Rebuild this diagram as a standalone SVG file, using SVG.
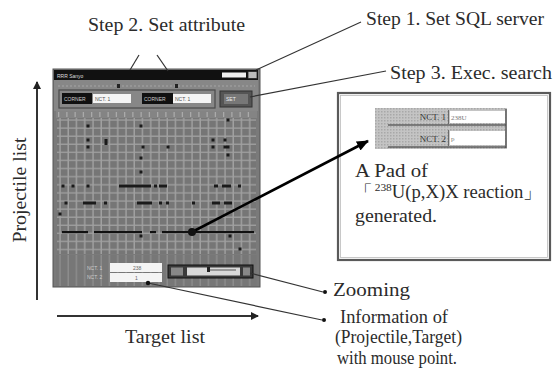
<svg xmlns="http://www.w3.org/2000/svg" width="553" height="381" viewBox="0 0 553 381">
<style>
.t{font-family:"Liberation Serif","Times New Roman",serif;font-size:18px;fill:#2b2b2b}
.s{font-family:"Liberation Sans",Arial,sans-serif;font-size:5px}
.ln{stroke:#333;stroke-width:1.2;fill:none}
.dot{fill:#111}
.pt{fill:#1a1a1a}
</style>
<defs>
<marker id="ah" markerWidth="8" markerHeight="8" refX="7" refY="4" orient="auto" markerUnits="userSpaceOnUse">
<path d="M0,0 L8,4 L0,8 Z" fill="#222"/>
</marker>
<marker id="ahb" markerWidth="12" markerHeight="10" refX="11" refY="5" orient="auto" markerUnits="userSpaceOnUse">
<path d="M0,0 L12,5 L0,10 Z" fill="#000"/>
</marker>
<pattern id="grid" x="58" y="118" width="8.25" height="8.1" patternUnits="userSpaceOnUse">
<rect width="8.25" height="8.1" fill="#767676"/>
<line x1="2" y1="0" x2="2" y2="8.1" stroke="#a6a6a6" stroke-width="1.3"/>
<line x1="0" y1="2" x2="8.25" y2="2" stroke="#a0a0a0" stroke-width="1.3"/>
</pattern>
<pattern id="vstripe" x="58" y="0" width="8.25" height="10" patternUnits="userSpaceOnUse">
<rect width="8.25" height="10" fill="#777"/>
<line x1="2" y1="0" x2="2" y2="10" stroke="#8f8f8f" stroke-width="1.3"/>
</pattern>
<pattern id="dots" width="3" height="3" patternUnits="userSpaceOnUse">
<rect width="3" height="3" fill="#c4c4c4"/>
<rect width="1.5" height="1.5" fill="#a8a8a8"/>
</pattern>
</defs>

<g id="axis-projectile">
<line x1="37" y1="300" x2="37" y2="82" stroke="#333" stroke-width="2" marker-end="url(#ah)"/>
<text class="t" transform="translate(26,190) rotate(-90)" text-anchor="middle" textLength="105" lengthAdjust="spacingAndGlyphs">Projectile list</text>
</g>

<g id="axis-target">
<line x1="57" y1="316" x2="258" y2="316" stroke="#333" stroke-width="2" marker-end="url(#ah)"/>
<text class="t" x="125" y="343" textLength="80" lengthAdjust="spacingAndGlyphs">Target list</text>
</g>

<g id="window">
<rect x="53" y="69" width="207" height="218" fill="#7a7a7a" stroke="#555" stroke-width="1"/>
<rect x="54" y="70" width="204" height="10" fill="#111"/>
<text class="s" x="57" y="77.5" fill="#ddd">RRR Sanyo</text>
<rect x="222" y="72.5" width="24" height="5" fill="#eee"/>
<rect x="248" y="71.5" width="9" height="7" fill="#bbb" stroke="#222" stroke-width="0.8"/>
<rect x="54" y="80" width="204" height="31" fill="#878787"/>
<line x1="58" y1="86" x2="255" y2="86" stroke="#a5a5a5" stroke-width="1" stroke-dasharray="2,2"/>
<rect x="117" y="84" width="3" height="4" fill="#222"/>
<rect x="175" y="84" width="3" height="4" fill="#222"/>
<rect x="59" y="90" width="156" height="18" fill="none" stroke="#4a4a4a" stroke-width="1.2"/>
<rect x="62" y="93" width="30" height="11" fill="#111"/>
<text class="s" x="64" y="100.5" fill="#ccc">CORNER</text>
<rect x="93" y="94" width="38" height="9" fill="#f4f4f4"/>
<text class="s" x="95" y="100.5" fill="#555">NCT. 1</text>
<rect x="142" y="93" width="31" height="11" fill="#111"/>
<text class="s" x="144" y="100.5" fill="#ccc">CORNER</text>
<rect x="173" y="94" width="38" height="9" fill="#f4f4f4"/>
<text class="s" x="175" y="100.5" fill="#555">NCT. 1</text>
<rect x="220" y="91" width="32" height="16" fill="#555" stroke="#333" stroke-width="1"/>
<rect x="224" y="94" width="24" height="10" fill="#777"/>
<text class="s" x="226" y="101" fill="#eee">SET</text>
<rect x="56" y="111" width="201" height="7" fill="#848484"/>
<line x1="58" y1="114.5" x2="256" y2="114.5" stroke="#aaa" stroke-width="5" stroke-dasharray="1.3,6.95"/>
<rect x="57" y="118" width="199" height="136" fill="url(#grid)"/>
<rect x="56" y="255" width="201" height="31" fill="url(#vstripe)"/>
<text class="s" x="87" y="269.5" fill="#ccc">NCT. 1</text>
<text class="s" x="87" y="279" fill="#ccc">NCT. 2</text>
<rect x="110" y="263" width="52" height="9" fill="#f4f4f4"/>
<text class="s" x="133" y="269.8" fill="#666">238</text>
<rect x="110" y="273" width="52" height="9" fill="#f4f4f4"/>
<text class="s" x="135" y="279.8" fill="#666">1</text>
<rect x="168" y="265" width="85" height="13" fill="#3a3a3a" stroke="#111" stroke-width="1"/>
<rect x="187" y="267.5" width="53" height="8" fill="#d8d8d8"/>
<rect x="207" y="267" width="3" height="5" fill="#222"/>
<line x1="210" y1="270" x2="236" y2="270" stroke="#555" stroke-width="1"/>
<rect x="171" y="267.5" width="12" height="8" fill="#888"/>
<rect x="243" y="267.5" width="7" height="8" fill="#888"/>
</g>

<g id="data">
<g class="pt">
<rect x="86.5" y="124.5" width="3" height="3"/><rect x="139.5" y="124.5" width="3" height="3"/>
<rect x="86.5" y="138.5" width="3" height="3"/><rect x="104.5" y="139" width="3" height="6"/>
<rect x="86.5" y="145.5" width="3" height="3"/><rect x="141.5" y="145.5" width="3" height="3"/><rect x="166.5" y="145.5" width="3" height="3"/>
<rect x="211.5" y="138.5" width="3" height="3"/><rect x="223.5" y="138.5" width="3" height="3"/>
<rect x="211.5" y="145.5" width="3" height="3"/><rect x="223.5" y="145.5" width="6" height="3"/>
<rect x="226.5" y="153.5" width="3" height="3"/><rect x="226.5" y="118.5" width="3" height="3"/>
<rect x="139.5" y="156.5" width="3" height="3"/><rect x="139.5" y="170.5" width="3" height="3"/>
<rect x="61.5" y="184.5" width="3" height="3"/><rect x="71.5" y="184.5" width="3" height="3"/><rect x="86.5" y="184.5" width="3" height="3"/>
<rect x="119" y="184.5" width="32" height="3"/><rect x="154" y="184.5" width="3" height="3"/><rect x="159" y="184.5" width="8" height="3"/>
<rect x="214" y="184.5" width="4" height="3"/><rect x="222" y="184.5" width="9" height="3"/><rect x="238" y="184.5" width="3" height="3"/>
<rect x="64.5" y="201.5" width="3" height="3"/><rect x="83" y="201.5" width="13" height="3"/><rect x="104" y="201.5" width="3" height="3"/>
<rect x="137" y="201.5" width="15" height="3"/><rect x="159" y="201.5" width="3" height="3"/><rect x="166" y="201.5" width="3" height="3"/>
<rect x="192" y="201.5" width="3" height="3"/><rect x="212" y="201.5" width="8" height="3"/><rect x="224" y="201.5" width="8" height="3"/>
<rect x="58.5" y="212.5" width="3" height="3"/>
<rect x="139.5" y="234.5" width="3" height="3"/><rect x="228.5" y="234.5" width="3" height="3"/><rect x="238.5" y="247.5" width="3" height="3"/>
</g>
<g fill="#111">
<rect x="62" y="231" width="26" height="2.2"/>
<rect x="94" y="231" width="48" height="2.2"/>
<rect x="150" y="231" width="6" height="2.2"/>
<rect x="162" y="231" width="92" height="2.2"/>
</g>
</g>

<g id="pad-panel">
<rect x="338" y="93" width="212" height="167" fill="#fff" stroke="#5a5a5a" stroke-width="2.2"/>
<rect x="340.5" y="95.5" width="207" height="162" fill="none" stroke="#bbb" stroke-width="0.8"/>
<rect x="375" y="108" width="132" height="41" fill="url(#dots)"/>
<rect x="450" y="111" width="55" height="12" fill="#fff"/>
<rect x="450" y="131" width="55" height="14" fill="#fff"/>
<line x1="388" y1="125" x2="506" y2="125" stroke="#333" stroke-width="1.2"/>
<line x1="388" y1="147" x2="506" y2="147" stroke="#333" stroke-width="1.2"/>
<line x1="506" y1="109" x2="506" y2="148" stroke="#444" stroke-width="1.2"/>
<line x1="448.5" y1="110" x2="448.5" y2="124" stroke="#555" stroke-width="0.8"/>
<line x1="448.5" y1="130" x2="448.5" y2="146" stroke="#555" stroke-width="0.8"/>
<text x="446" y="120" text-anchor="end" font-family="Liberation Serif,serif" font-size="9" fill="#333">NCT. 1</text>
<text x="446" y="142" text-anchor="end" font-family="Liberation Serif,serif" font-size="9" fill="#333">NCT. 2</text>
<text x="451" y="120" font-family="Liberation Serif,serif" font-size="7" fill="#777">238U</text>
<text x="451" y="141" font-family="Liberation Serif,serif" font-size="7" fill="#777">p</text>
<text class="t" x="355" y="177" textLength="73" lengthAdjust="spacingAndGlyphs">A Pad of</text>
<text class="t" x="354" y="198" font-family="Liberation Serif,'Noto Sans CJK JP',serif" textLength="188" lengthAdjust="spacingAndGlyphs">「<tspan font-size="11" dy="-7" dx="2">238</tspan><tspan dy="7">U(p,X)X reaction」</tspan></text>
<text class="t" x="355" y="222" textLength="82" lengthAdjust="spacingAndGlyphs">generated.</text>
</g>

<g id="labels">
<text class="t" x="88" y="31" textLength="157" lengthAdjust="spacingAndGlyphs">Step 2. Set attribute</text>
<text class="t" x="366" y="25" textLength="178" lengthAdjust="spacingAndGlyphs">Step 1. Set SQL server</text>
<text class="t" x="390" y="79" textLength="162" lengthAdjust="spacingAndGlyphs">Step 3. Exec. search</text>
<text class="t" x="333" y="296" textLength="77" lengthAdjust="spacingAndGlyphs">Zooming</text>
<text class="t" x="340" y="323" textLength="108" lengthAdjust="spacingAndGlyphs">Information of</text>
<text class="t" x="335" y="343" textLength="127" lengthAdjust="spacingAndGlyphs">(Projectile,Target)</text>
<text class="t" x="337" y="364" textLength="120" lengthAdjust="spacingAndGlyphs">with mouse point.</text>
</g>

<g id="connectors">
<line class="ln" x1="139" y1="55" x2="130" y2="70"/>
<line class="ln" x1="157" y1="55" x2="168" y2="71"/>
<line class="ln" x1="361" y1="22" x2="256" y2="70"/>
<line class="ln" x1="386" y1="71" x2="250" y2="97"/>
<line class="ln" x1="250" y1="273" x2="323" y2="292"/>
<circle class="dot" cx="325" cy="292" r="2"/>
<line class="ln" x1="148" y1="283" x2="322" y2="320"/>
<circle class="dot" cx="148" cy="283" r="2.2"/>
<circle class="dot" cx="324" cy="320" r="2"/>
<line x1="192" y1="232" x2="368" y2="141" stroke="#000" stroke-width="2.6" marker-end="url(#ahb)"/>
<circle class="dot" cx="192" cy="232" r="4"/>
</g>
</svg>
